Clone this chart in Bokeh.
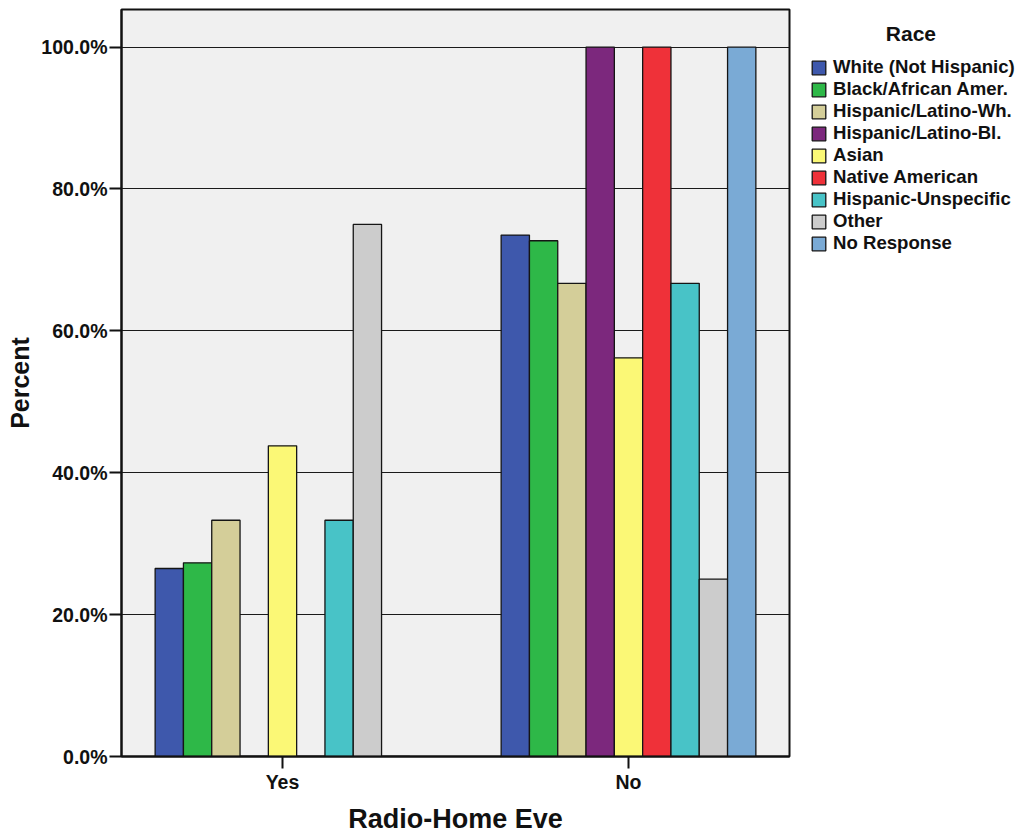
from bokeh.plotting import figure
from bokeh.models import (FactorRange, Range1d, Legend, LegendItem,
                          FixedTicker, ColumnDataSource)
from bokeh.transform import dodge
from bokeh.embed import file_html
from bokeh.resources import INLINE

# ---- data -------------------------------------------------------------
categories = ["Yes", "No"]
races = ["White (Not Hispanic)", "Black/African Amer.", "Hispanic/Latino-Wh.",
         "Hispanic/Latino-Bl.", "Asian", "Native American",
         "Hispanic-Unspecific", "Other", "No Response"]
white = [26.5, 73.5]
black = [27.3, 72.7]
hisp_wh = [33.3, 66.7]
hisp_bl = [0.0, 100.0]
asian = [43.8, 56.2]
native = [0.0, 100.0]
hisp_un = [33.3, 66.7]
other = [75.0, 25.0]
no_resp = [0.0, 100.0]
series = [white, black, hisp_wh, hisp_bl, asian, native, hisp_un, other, no_resp]
colors = ["#3e58ac", "#2eb848", "#d4ce99", "#7c287d", "#fbf876",
          "#ef3139", "#48c3c7", "#cccccc", "#7aaad5"]
y_ticks = [0, 20, 40, 60, 80, 100]
y_tick_labels = ["0.0%", "20.0%", "40.0%", "60.0%", "80.0%", "100.0%"]
legend_title = "Race"

FONT = "Liberation Sans"

data = {"cat": categories}
for i, s in enumerate(series):
    data[f"s{i}"] = s
src = ColumnDataSource(data)

p = figure(
    x_range=FactorRange(factors=categories, range_padding=-0.0347,
                        range_padding_units="absolute"),
    y_range=Range1d(0, 105.3),
    frame_width=668, frame_height=747,
    min_border_left=121, min_border_top=9, min_border_right=228,
    min_border_bottom=60,
    output_backend="svg", toolbar_location=None,
    background_fill_color="#f0f0f0", border_fill_color="white",
)

bw = 0.0818
items = []
for i, (name, col) in enumerate(zip(races, colors)):
    r = p.vbar(x=dodge("cat", (i - 4) * bw, range=p.x_range), top=f"s{i}",
               width=bw, source=src, fill_color=col, line_color="#151515",
               line_width=1.3)
    items.append(LegendItem(label=name, renderers=[r]))

# grid
p.xgrid.visible = False
p.ygrid.ticker = FixedTicker(ticks=y_ticks[1:])
p.ygrid.grid_line_color = "#1a1a1a"
p.ygrid.grid_line_width = 1.2

p.outline_line_color = "#111111"
p.outline_line_width = 2

# axes
for ax in (p.xaxis[0], p.yaxis[0]):
    ax.major_tick_in = 0
    ax.major_tick_out = 12
    ax.minor_tick_line_color = None
    ax.major_tick_line_width = 2
    ax.axis_line_width = 2
    ax.axis_line_color = "#111111"
    ax.major_tick_line_color = "#111111"
    ax.major_label_text_font = FONT
    ax.major_label_text_font_style = "bold"
    ax.major_label_text_font_size = "19.5px"
    ax.major_label_text_color = "#111111"
    ax.axis_label_text_font = FONT
    ax.axis_label_text_font_style = "bold"
    ax.axis_label_text_color = "#111111"

p.yaxis.ticker = FixedTicker(ticks=y_ticks)
p.yaxis.major_label_overrides = {t: l for t, l in zip(y_ticks, y_tick_labels)}
p.yaxis.major_label_standoff = 2
p.yaxis.axis_label = "Percent"
p.yaxis.axis_label_text_font_size = "25px"
p.yaxis.axis_label_standoff = 4

p.xaxis.major_label_standoff = 2
p.xaxis.axis_label = "Radio-Home Eve"
p.xaxis.axis_label_text_font_size = "27px"
p.xaxis.axis_label_standoff = 8

# legend title shifted right with non-breaking spaces so it sits centred
title_txt = "\u00a0" * 13 + legend_title
legend = Legend(items=items, location=(21, 501.7),
                title=title_txt, title_standoff=10,
                title_text_font=FONT, title_text_font_style="bold",
                title_text_font_size="21px", title_text_color="#111111",
                glyph_width=17, glyph_height=17, label_height=17,
                spacing=0, padding=0, margin=0, label_standoff=6,
                border_line_color=None, background_fill_alpha=0,
                label_text_font=FONT, label_text_font_style="bold",
                label_text_font_size="18.6px", label_text_color="#111111")
p.add_layout(legend, "right")

open("out.html", "w").write(file_html(p, INLINE))
